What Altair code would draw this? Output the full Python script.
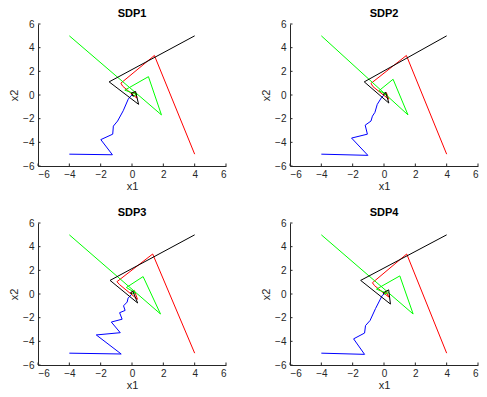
import altair as alt
import pandas as pd

titles = ["SDP1", "SDP2", "SDP3", "SDP4"]
series_names = ["blue", "red", "green", "black"]
series_colors = ["#0000ff", "#ff0000", "#00ff00", "#000000"]
tick_values = [-6, -4, -2, 0, 2, 4, 6]

# SDP1
sdp1_blue_x1 = [-4, -1.25, -1.99, -1.23, -1.19, -0.92, -0.56, -0.25, -0.15, 0]
sdp1_blue_x2 = [-5, -5.05, -3.77, -3.31, -2.63, -2.2, -1.33, -0.38, -0.19, 0]
sdp1_red_x1 = [4, 1.43, -0.71, -0.6, 0.3, 0.2, -0.05, 0]
sdp1_red_x2 = [-5, 3.34, 1.0, 0.75, -0.25, 0.25, 0.1, 0]
sdp1_green_x1 = [-4, 1.88, 1.05, -0.46, 0.3, 0.05, 0]
sdp1_green_x2 = [5, -1.68, 1.55, 0.41, 0.05, -0.1, 0]
sdp1_black_x1 = [4, -1.46, 0.42, 0.23, -0.04, 0.1, 0]
sdp1_black_x2 = [5, 1.11, -0.79, 0.3, 0.16, -0.1, 0]

# SDP2
sdp2_blue_x1 = [-4, -1.03, -2.07, -1.06, -1.2, -0.83, -0.74, -0.58, -0.43, -0.17, 0]
sdp2_blue_x2 = [-5, -5.1, -3.64, -3.31, -2.55, -2.2, -1.79, -1.47, -0.79, -0.24, 0]
sdp2_red_x1 = [4, 1.43, -0.83, -0.7, 0.3, 0.15, 0]
sdp2_red_x2 = [-5, 3.34, 0.98, 0.7, -0.35, 0.2, 0]
sdp2_green_x1 = [-4, 1.53, 0.58, -0.33, 0.2, 0]
sdp2_green_x2 = [5, -1.68, 1.33, 0.35, 0.05, 0]
sdp2_black_x1 = [4, -1.26, 0.31, 0.1, -0.05, 0]
sdp2_black_x2 = [5, 1.11, -0.68, 0.25, 0.05, 0]

# SDP3
sdp3_blue_x1 = [-4, -0.69, -2.28, -0.75, -1.32, -0.63, -0.79, -0.44, -0.54, -0.31, -0.25, 0]
sdp3_blue_x2 = [-5, -5.07, -3.46, -3.27, -2.37, -2.13, -1.58, -1.39, -1.0, -0.68, -0.35, 0]
sdp3_red_x1 = [4, 1.32, -0.96, -0.8, 0.35, 0.15, -0.05, 0]
sdp3_red_x2 = [-5, 3.38, 1.04, 0.8, -0.45, 0.3, 0.1, 0]
sdp3_green_x1 = [-4, 1.82, 0.71, -0.36, 0.2, 0]
sdp3_green_x2 = [5, -1.69, 1.47, 0.55, 0.1, 0]
sdp3_black_x1 = [4, -1.4, 0.36, 0.05, -0.1, 0]
sdp3_black_x2 = [5, 1.15, -0.76, 0.25, 0.1, 0]

# SDP4
sdp4_blue_x1 = [-4, -1.24, -1.94, -1.24, -1.18, -0.89, -0.54, -0.12, 0]
sdp4_blue_x2 = [-5, -5.1, -3.79, -3.3, -2.67, -2.24, -1.23, -0.14, 0]
sdp4_red_x1 = [4, 1.45, -0.74, -0.6, 0.3, 0.15, 0]
sdp4_red_x2 = [-5, 3.38, 0.95, 0.7, -0.25, 0.2, 0]
sdp4_green_x1 = [-4, 1.86, 1.01, -0.48, 0.2, 0]
sdp4_green_x2 = [5, -1.69, 1.53, 0.41, 0.05, 0]
sdp4_black_x1 = [4, -1.49, 0.41, 0.3, -0.05, 0]
sdp4_black_x2 = [5, 1.15, -0.85, 0.35, 0.1, 0]

paths = {
    "SDP1": [(sdp1_blue_x1, sdp1_blue_x2), (sdp1_red_x1, sdp1_red_x2),
             (sdp1_green_x1, sdp1_green_x2), (sdp1_black_x1, sdp1_black_x2)],
    "SDP2": [(sdp2_blue_x1, sdp2_blue_x2), (sdp2_red_x1, sdp2_red_x2),
             (sdp2_green_x1, sdp2_green_x2), (sdp2_black_x1, sdp2_black_x2)],
    "SDP3": [(sdp3_blue_x1, sdp3_blue_x2), (sdp3_red_x1, sdp3_red_x2),
             (sdp3_green_x1, sdp3_green_x2), (sdp3_black_x1, sdp3_black_x2)],
    "SDP4": [(sdp4_blue_x1, sdp4_blue_x2), (sdp4_red_x1, sdp4_red_x2),
             (sdp4_green_x1, sdp4_green_x2), (sdp4_black_x1, sdp4_black_x2)],
}

W, H = 188, 142
AX = "#262626"
FONT = "Liberation Sans"


def panel(title):
    xs = alt.Scale(domain=[-6, 6], nice=False, zero=False)
    ys = alt.Scale(domain=[-6, 6], nice=False, zero=False)
    xaxis = alt.Axis(values=tick_values, ticks=False, tickSize=0, grid=False, title="x1",
                     labelPadding=3, titlePadding=1)
    yaxis = alt.Axis(values=tick_values, ticks=False, tickSize=0, grid=False, title="x2",
                     labelPadding=4, titlePadding=3)
    layers = []
    for i, (name, color) in enumerate(zip(series_names, series_colors)):
        x1, x2 = paths[title][i]
        df = pd.DataFrame({"x1": x1, "x2": x2, "step": list(range(len(x1)))})
        layers.append(alt.Chart(df).mark_line(color=color, strokeWidth=1).encode(
            x=alt.X("x1:Q", scale=xs, axis=xaxis),
            y=alt.Y("x2:Q", scale=ys, axis=yaxis),
            order="step:Q"))
    tdf = pd.DataFrame({"x1": tick_values, "x2": tick_values})
    xt = alt.Chart(tdf).mark_rule(color=AX, strokeWidth=1).encode(
        x=alt.X("x1:Q", scale=xs, axis=xaxis), y=alt.value(H), y2=alt.value(H - 2.5))
    yt = alt.Chart(tdf).mark_rule(color=AX, strokeWidth=1).encode(
        y=alt.Y("x2:Q", scale=ys, axis=yaxis), x=alt.value(0), x2=alt.value(2.5))
    return alt.layer(*layers, xt, yt).properties(
        width=W, height=H,
        title=alt.TitleParams(title, fontSize=11, fontWeight="bold", offset=0,
                              font=FONT, color="black", anchor="middle"))


p = [panel(t) for t in titles]
chart = alt.vconcat(
    alt.hconcat(p[0], p[1], spacing=33),
    alt.hconcat(p[2], p[3], spacing=33),
    spacing=16,
).properties(padding=0, background="white").configure_view(strokeWidth=0).configure_axis(
    labelFont=FONT, titleFont=FONT, labelFontSize=10, titleFontSize=11,
    labelColor=AX, titleColor=AX, domainColor=AX, domainWidth=1,
    titleFontWeight="normal",
)

chart.save("out.html", embed_options={"renderer": "svg", "actions": False})
